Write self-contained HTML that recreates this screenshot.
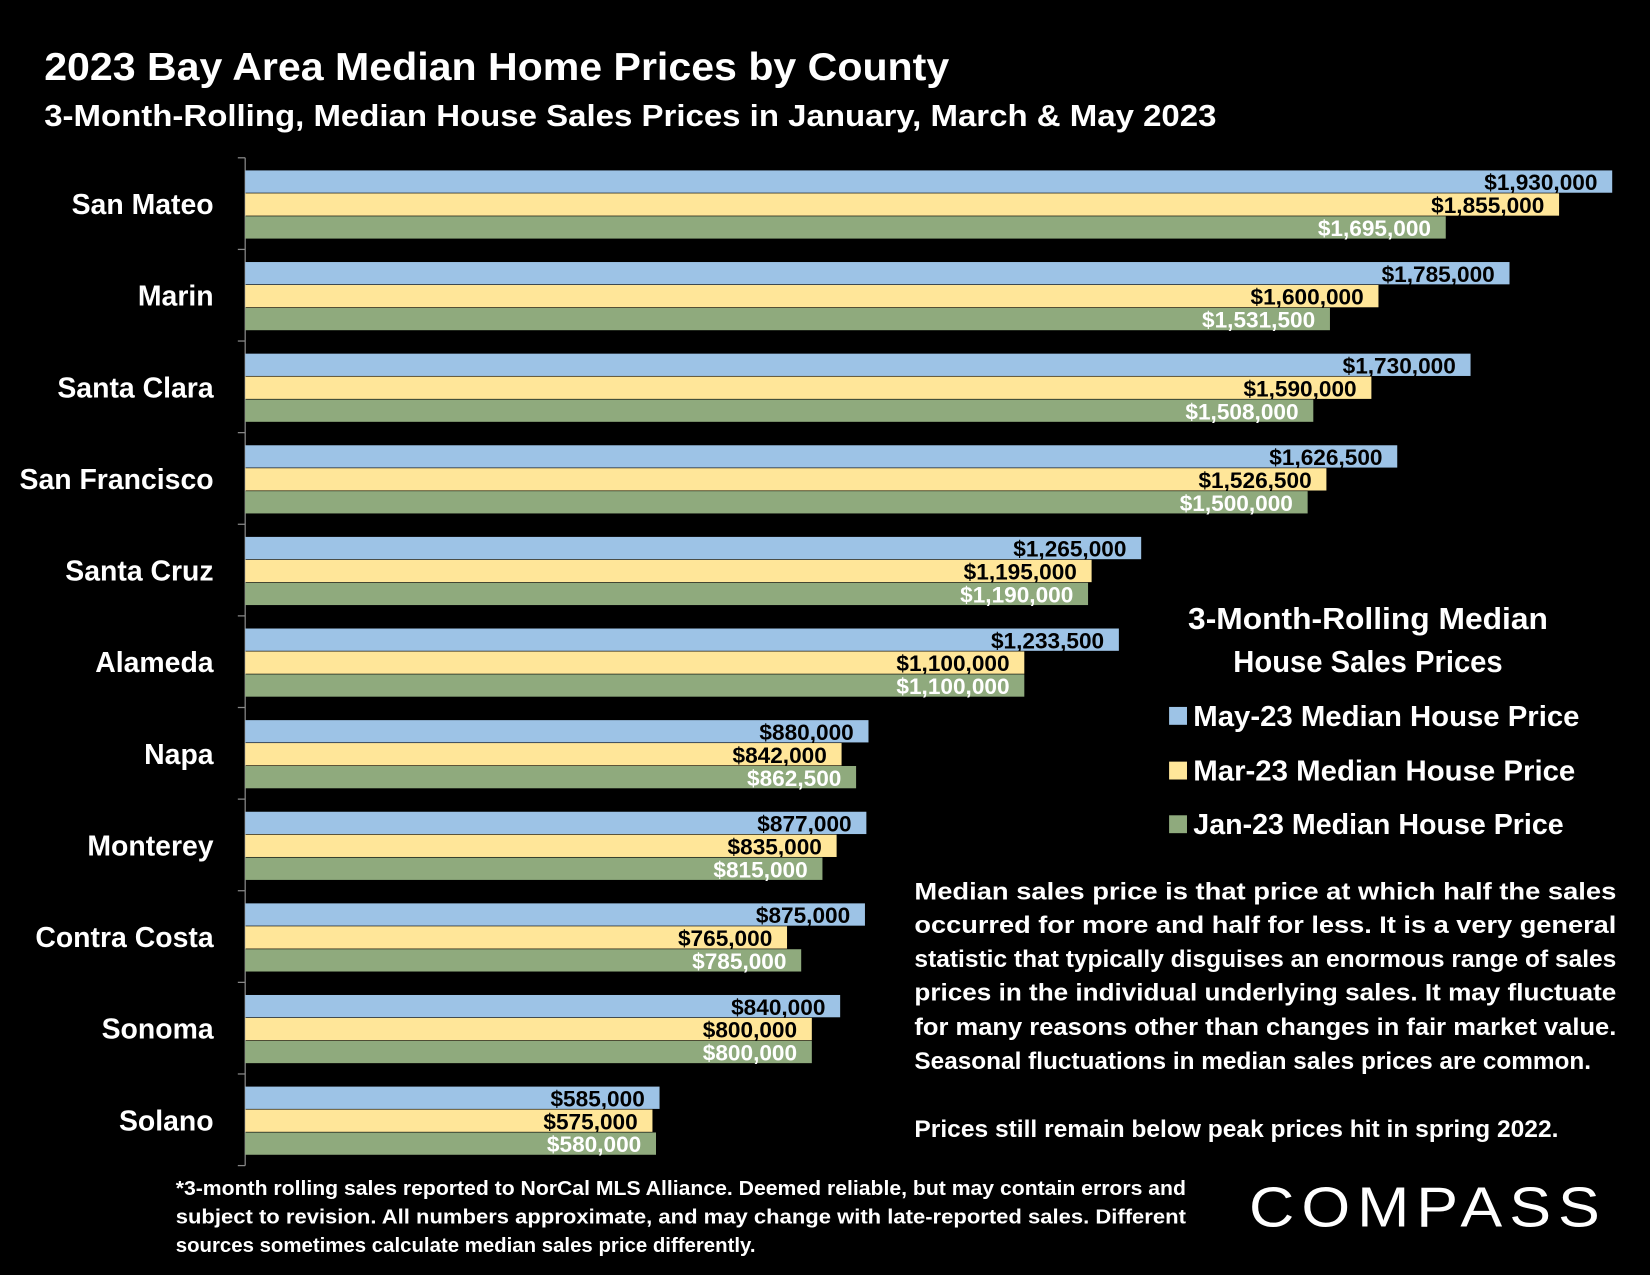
<!DOCTYPE html>
<html><head><meta charset="utf-8">
<style>
html,body{margin:0;padding:0;background:#000;}
svg{display:block;}
text{font-family:"Liberation Sans",sans-serif;}
</style></head>
<body>
<svg id="chart" width="1650" height="1275" viewBox="0 0 1568 1212" preserveAspectRatio="none" xmlns="http://www.w3.org/2000/svg">
<rect x="0" y="0" width="1568" height="1212" fill="#000"/>
<text x="42" y="76" fill="#fff" font-size="37" font-weight="bold" textLength="860" lengthAdjust="spacingAndGlyphs">2023 Bay Area Median Home Prices by County</text>
<text x="42" y="120" fill="#fff" font-size="29" font-weight="bold" textLength="1114" lengthAdjust="spacingAndGlyphs">3-Month-Rolling, Median House Sales Prices in January, March &amp; May 2023</text>
<g id="plot"></g>
<g>
<text x="1300" y="598" fill="#fff" font-size="29" font-weight="bold" text-anchor="middle" textLength="342" lengthAdjust="spacingAndGlyphs">3-Month-Rolling Median</text>
<text x="1300" y="639" fill="#fff" font-size="29" font-weight="bold" text-anchor="middle" textLength="256" lengthAdjust="spacingAndGlyphs">House Sales Prices</text>
<g><rect x="1111" y="672" width="17" height="17" fill="#9dc3e6"/><text x="1134" y="690" fill="#fff" font-size="27" font-weight="bold" textLength="367" lengthAdjust="spacingAndGlyphs">May-23 Median House Price</text></g>
<g><rect x="1111" y="724" width="17" height="17" fill="#ffe699"/><text x="1134" y="742" fill="#fff" font-size="27" font-weight="bold" textLength="363" lengthAdjust="spacingAndGlyphs">Mar-23 Median House Price</text></g>
<g><rect x="1111" y="775" width="17" height="17" fill="#8faa7d"/><text x="1134" y="793" fill="#fff" font-size="27" font-weight="bold" textLength="352" lengthAdjust="spacingAndGlyphs">Jan-23 Median House Price</text></g>
</g>
<g fill="#fff" font-size="23" font-weight="bold">
<text x="869" y="855" textLength="667" lengthAdjust="spacingAndGlyphs">Median sales price is that price at which half the sales</text>
<text x="869" y="887" textLength="667" lengthAdjust="spacingAndGlyphs">occurred for more and half for less. It is a very general</text>
<text x="869" y="919" textLength="667" lengthAdjust="spacingAndGlyphs">statistic that typically disguises an enormous range of sales</text>
<text x="869" y="951" textLength="667" lengthAdjust="spacingAndGlyphs">prices in the individual underlying sales. It may fluctuate</text>
<text x="869" y="984" textLength="667" lengthAdjust="spacingAndGlyphs">for many reasons other than changes in fair market value.</text>
<text x="869" y="1016" textLength="643" lengthAdjust="spacingAndGlyphs">Seasonal fluctuations in median sales prices are common.</text>
<text x="869" y="1081" textLength="612" lengthAdjust="spacingAndGlyphs">Prices still remain below peak prices hit in spring 2022.</text>
</g>
<g fill="#fff" font-size="19" font-weight="bold">
<text x="167" y="1136" textLength="960" lengthAdjust="spacingAndGlyphs">*3-month rolling sales reported to NorCal MLS Alliance. Deemed reliable, but may contain errors and</text>
<text x="167" y="1163" textLength="960" lengthAdjust="spacingAndGlyphs">subject to revision. All numbers approximate, and may change with late-reported sales.  Different</text>
<text x="167" y="1190" textLength="551" lengthAdjust="spacingAndGlyphs">sources sometimes calculate median sales price differently.</text>
</g>
<text x="1187" y="1166" fill="#fff" font-size="54" letter-spacing="6" textLength="340" lengthAdjust="spacingAndGlyphs">COMPASS</text>
</svg>
<script>
const categories = ["San Mateo","Marin","Santa Clara","San Francisco","Santa Cruz","Alameda","Napa","Monterey","Contra Costa","Sonoma","Solano"];
const mayValues = [1930000,1785000,1730000,1626500,1265000,1233500,880000,877000,875000,840000,585000];
const marValues = [1855000,1600000,1590000,1526500,1195000,1100000,842000,835000,765000,800000,575000];
const janValues = [1695000,1531500,1508000,1500000,1190000,1100000,862500,815000,785000,800000,580000];
const seriesNames = ["may","mar","jan"];

const NS = "http://www.w3.org/2000/svg";
const plot = document.getElementById("plot");
const X0 = 233, XPerMillion = 673.1;
const Y0 = 150, BAND = 958 / categories.length, BAR = 21.8, PAD = 12;
function xScale(v){ return X0 + v / 1e6 * XPerMillion; }
function yBand(i){ return Y0 + i * BAND; }
function fmt(v){ return "$" + v.toLocaleString("en-US"); }
const colors = ["#9dc3e6","#ffe699","#8faa7d"];
const labelColors = ["#000","#000","#fff"];
const series = [mayValues, marValues, janValues];

function mk(tag, attrs){ const e = document.createElementNS(NS, tag); for (const k in attrs) e.setAttribute(k, attrs[k]); return e; }

const axis = mk("line", {x1:X0, y1:Y0, x2:X0, y2:Y0 + BAND*categories.length, stroke:"#888", "stroke-width":1.2});


plot.appendChild(axis);

for (let i = 0; i <= categories.length; i++) {
  const t = mk("line", {x1:X0-7, y1:yBand(i), x2:X0, y2:yBand(i), stroke:"#888", "stroke-width":1.2});
  
  
  plot.appendChild(t);
}

categories.forEach((c, i) => {
  const lab = mk("text", {x:203, y:yBand(i) + BAND/2 + 10, fill:"#fff", "font-size":27, "font-weight":"bold", "text-anchor":"end"});
  lab.textContent = c;
  
  
  plot.appendChild(lab);
  series.forEach((vals, s) => {
    const y = yBand(i) + PAD + s * BAR;
    const r = mk("rect", {x:X0, y:y, width:xScale(vals[i]) - X0, height:BAR - 0.6, fill:colors[s]});
    
    
    plot.appendChild(r);
    const t = mk("text", {x:xScale(vals[i]) - 14, y:y + BAR - 3, fill:labelColors[s], "font-size":21.5, "font-weight":"bold", "text-anchor":"end"});
    t.textContent = fmt(vals[i]);
    
    
    plot.appendChild(t);
  });
});
</script>
</body></html>
